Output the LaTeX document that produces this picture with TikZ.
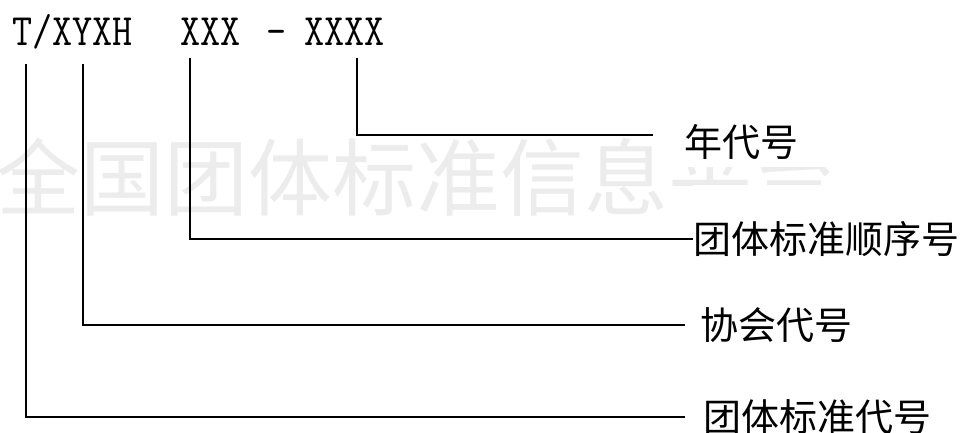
\documentclass[tikz,border=0pt]{standalone}
\usepackage{fontspec}
\newfontfamily\cjk{Noto Sans CJK SC}
\definecolor{C0}{RGB}{236,236,236}
\tikzset{
  code/.style={anchor=base west,inner sep=0pt,yscale=1.15,font=\fontsize{39}{39}\selectfont\ttfamily},
  lab/.style={anchor=west,fill=white,inner ysep=7pt,font=\cjk\fontsize{38}{38}\selectfont},
  lead/.style={line width=1.6pt}
}
\begin{document}
\begin{tikzpicture}[x=1pt,y=-1pt]
                \useasboundingbox (0,0) rectangle (964,433);
                \node[anchor=west,inner sep=0pt,text=C0,font=\cjk\fontsize{84}{84}\selectfont] (wm) at (-4,177) {全国团体标准信息平台};

                \node[code] (tA) at (12,46) {T/XYXH};
                \node[code] (tB) at (180,46) {XXX};
                \node[code] (tC) at (266,46) {-};
                \node[code] (tD) at (304,46) {XXXX};

                \coordinate (s1) at (357,58);
                \coordinate (s2) at (190,58);
                \coordinate (s3) at (83,64);
                \coordinate (s4) at (26,64);

                \node[lab,inner xsep=31pt] (l1) at (653,142) {年代号};
                \node[lab,inner xsep=0pt,inner ysep=36pt] (l2) at (693,239) {团体标准顺序号};
                \node[lab,inner xsep=15pt] (l3) at (685,325) {协会代号};
                \node[lab,inner xsep=18pt] (l4) at (685,417) {团体标准代号};

                \draw[lead] (s1) |- ([yshift=7pt]l1.west);
                \draw[lead] (s2) |- (l2.west);
                \draw[lead] (s3) |- (l3.west);
                \draw[lead] (s4) |- (l4.west);
\end{tikzpicture}
\end{document}
